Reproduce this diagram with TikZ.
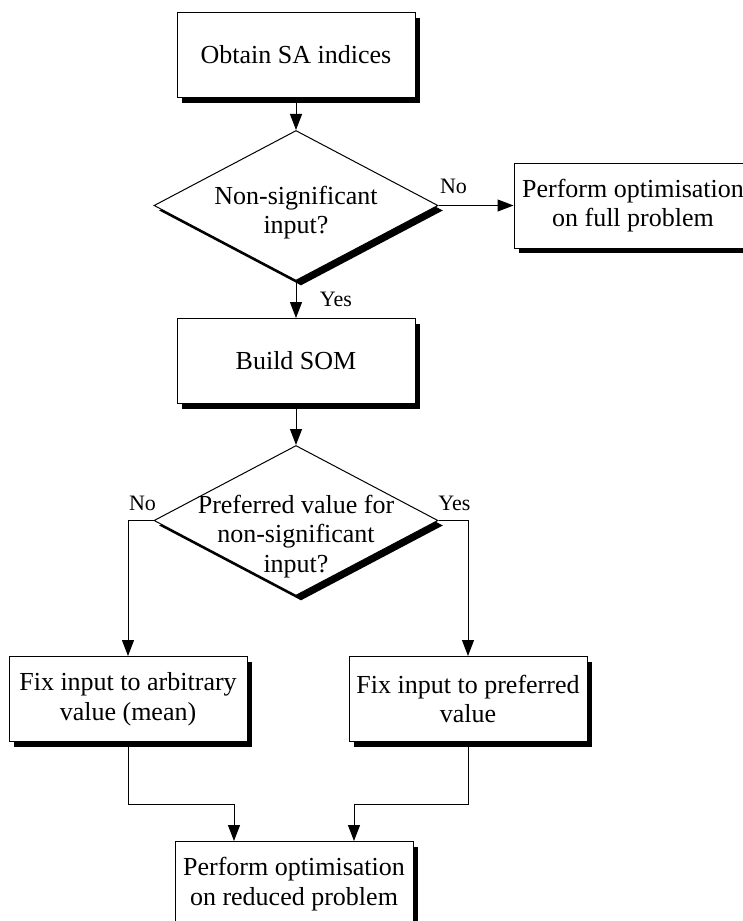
\documentclass[tikz,border=0pt]{standalone}
\usepackage{fontspec}
\setmainfont{Liberation Serif}
\usetikzlibrary{arrows.meta, positioning, shapes.geometric, shadows}

\begin{document}
\begin{tikzpicture}[
    x=1pt, y=1pt,
    box/.style={
      rectangle,
      draw=black,
      line width=1pt,
      fill=white,
      align=center,
      inner sep=2pt,
      minimum width=238pt,
      minimum height=85pt,
      font=\fontsize{26}{29.5}\selectfont,
      drop shadow={shadow xshift=5pt, shadow yshift=-5pt, fill=black, opacity=1}
    },
    decision/.style={
      diamond,
      draw=black,
      line width=1pt,
      fill=white,
      inner sep=0pt,
      minimum width=284pt,
      minimum height=150pt,
      drop shadow={shadow xshift=5pt, shadow yshift=-5pt, fill=black, opacity=1}
    },
    question/.style={align=center, inner sep=0pt, font=\fontsize{26}{29.5}\selectfont},
    answer/.style={inner sep=0pt, font=\fontsize{22}{24}\selectfont},
    arrow/.style={-{Triangle[length=16pt, width=12pt]}, line width=1pt}
  ]
    \useasboundingbox (0,0) rectangle (743,-921);

    \node[box] (obtain) at (296,-55) {Obtain SA indices};
    \node[decision, below=32pt of obtain] (sig) {};
    \node[question] (sigq) at ([yshift=-7pt]sig.center) {Non-significant\\input?};
    \node[box, right=75pt of sig] (full) {Perform optimisation\\on full problem};
    \node[box, below=37pt of sig] (som) {Build SOM};
    \node[decision, below=41pt of som] (pref) {};
    \node[question] (prefq) at ([yshift=-16pt]pref.center) {Preferred value for\\non-significant\\input?};
    \node[box, below=60pt of pref, xshift=-168pt] (arb) {Fix input to arbitrary\\value (mean)};
    \node[box, below=60pt of pref, xshift=172pt] (fixpref) {Fix input to preferred\\value};
    \node[box, below=99pt of arb, xshift=166pt] (reduced) {Perform optimisation\\on reduced problem};

    % branch labels
    \node[answer] (no1) at ([shift={(15pt,19pt)}]sig.east) {No};
    \node[answer] (yes1) at ([shift={(40pt,-18pt)}]sig.south) {Yes};
    \node[answer] (no2) at ([shift={(-11pt,17pt)}]pref.west) {No};
    \node[answer] (yes2) at ([shift={(16pt,17pt)}]pref.east) {Yes};

    \draw[arrow] (obtain) -- (sig);
    \draw[arrow] (sig.east) -- (full);
    \draw[arrow] (sig) -- (som);
    \draw[arrow] (som) -- (pref);
    \draw[arrow] (pref.west) -| (arb.north);
    \draw[arrow] (pref.east) -| (fixpref.north);
    \draw[arrow] (arb.south) |- ([shift={(-60pt,37pt)}]reduced.north) -- ([xshift=-60pt]reduced.north);
    \draw[arrow] (fixpref.south) |- ([shift={(60pt,37pt)}]reduced.north) -- ([xshift=60pt]reduced.north);
  \end{tikzpicture}
\end{document}
